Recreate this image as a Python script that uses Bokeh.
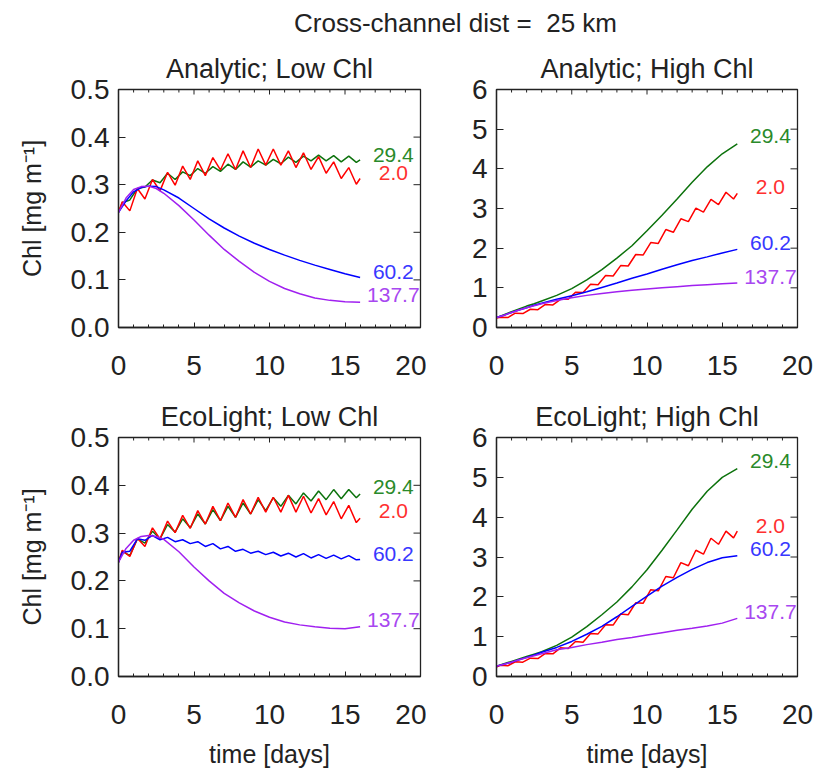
from bokeh.plotting import figure
from bokeh.layouts import column, row
from bokeh.models import Range1d, FixedTicker, LinearAxis, Title
from bokeh.embed import file_html
from bokeh.resources import INLINE
from bokeh.core.properties import value

# ---------------- data ----------------
t_zig = [0, 0.25, 0.75, 1.25, 1.75, 2.25, 2.75, 3.25, 3.75, 4.25, 4.75, 5.25, 5.75,
         6.25, 6.75, 7.25, 7.75, 8.25, 8.75, 9.25, 9.75, 10.25, 10.75, 11.25, 11.75,
         12.25, 12.75, 13.25, 13.75, 14.25, 14.75, 15.25, 15.75, 16]
t_smooth = [0, 0.5, 1, 1.5, 2, 2.5, 3, 4, 5, 6, 7, 8, 9, 10, 11, 12, 13, 14, 15, 16]

series_names = ["29.4", "2.0", "60.2", "137.7"]

# Analytic; Low Chl
a_low_green = [0.242, 0.262, 0.268, 0.292, 0.295, 0.310, 0.304, 0.324, 0.311, 0.327, 0.319,
               0.334, 0.324, 0.338, 0.328, 0.343, 0.332, 0.348, 0.337, 0.350, 0.341, 0.353,
               0.344, 0.358, 0.347, 0.360, 0.350, 0.362, 0.350, 0.361, 0.348, 0.360, 0.347, 0.352]
a_low_red = [0.242, 0.264, 0.245, 0.292, 0.270, 0.311, 0.287, 0.326, 0.299, 0.339, 0.311,
             0.350, 0.319, 0.357, 0.331, 0.365, 0.332, 0.371, 0.336, 0.375, 0.341, 0.375,
             0.341, 0.371, 0.336, 0.367, 0.332, 0.359, 0.324, 0.348, 0.313, 0.336, 0.301, 0.313]
a_low_blue = [0.242, 0.266, 0.285, 0.294, 0.297, 0.296, 0.289, 0.272, 0.250, 0.228, 0.209,
              0.192, 0.177, 0.164, 0.152, 0.141, 0.131, 0.122, 0.113, 0.105]
a_low_purple = [0.242, 0.272, 0.290, 0.296, 0.297, 0.292, 0.282, 0.256, 0.226, 0.194, 0.164,
                0.139, 0.116, 0.097, 0.082, 0.071, 0.062, 0.057, 0.054, 0.053]

# Analytic; High Chl
a_high_green = [0.25, 0.32, 0.40, 0.47, 0.54, 0.60, 0.67, 0.81, 0.98, 1.20, 1.46, 1.75, 2.06,
                2.44, 2.83, 3.24, 3.66, 4.05, 4.38, 4.63]
a_high_red = [0.24, 0.26, 0.25, 0.36, 0.35, 0.46, 0.45, 0.58, 0.57, 0.71, 0.71, 0.89, 0.88,
              1.09, 1.08, 1.31, 1.30, 1.56, 1.55, 1.84, 1.83, 2.14, 2.12, 2.47, 2.40, 2.74,
              2.67, 3.01, 2.91, 3.23, 3.10, 3.41, 3.24, 3.38]
a_high_blue = [0.25, 0.31, 0.38, 0.44, 0.50, 0.56, 0.61, 0.71, 0.80, 0.90, 1.01, 1.12, 1.24,
               1.35, 1.47, 1.58, 1.69, 1.78, 1.88, 1.97]
a_high_purple = [0.25, 0.31, 0.38, 0.44, 0.50, 0.55, 0.60, 0.68, 0.75, 0.81, 0.86, 0.90, 0.94,
                 0.97, 1.00, 1.03, 1.06, 1.08, 1.10, 1.12]

# EcoLight; Low Chl
e_low_green = [0.239, 0.262, 0.253, 0.288, 0.279, 0.304, 0.288, 0.318, 0.302, 0.330, 0.311,
               0.340, 0.319, 0.349, 0.326, 0.356, 0.333, 0.363, 0.340, 0.370, 0.347, 0.374,
               0.356, 0.379, 0.361, 0.384, 0.367, 0.388, 0.370, 0.391, 0.372, 0.391, 0.374, 0.382]
e_low_red = [0.239, 0.264, 0.251, 0.289, 0.272, 0.311, 0.288, 0.325, 0.301, 0.337, 0.310,
             0.347, 0.319, 0.356, 0.326, 0.363, 0.333, 0.370, 0.340, 0.375, 0.344, 0.375,
             0.344, 0.379, 0.344, 0.377, 0.342, 0.372, 0.338, 0.366, 0.330, 0.358, 0.322, 0.331]
e_low_blue = [0.239, 0.260, 0.262, 0.288, 0.285, 0.295, 0.286, 0.291, 0.282, 0.286, 0.278,
              0.282, 0.272, 0.278, 0.267, 0.272, 0.262, 0.266, 0.258, 0.262, 0.255, 0.260,
              0.252, 0.258, 0.250, 0.257, 0.248, 0.255, 0.247, 0.254, 0.246, 0.253, 0.244, 0.245]
e_low_purple = [0.239, 0.268, 0.285, 0.293, 0.295, 0.293, 0.287, 0.261, 0.229, 0.200, 0.174,
                0.154, 0.137, 0.124, 0.114, 0.108, 0.104, 0.101, 0.100, 0.104]

# EcoLight; High Chl
e_high_green = [0.26, 0.32, 0.38, 0.44, 0.50, 0.56, 0.62, 0.78, 0.99, 1.25, 1.55, 1.87, 2.25,
                2.68, 3.17, 3.68, 4.20, 4.65, 5.00, 5.22]
e_high_red = [0.24, 0.28, 0.27, 0.37, 0.36, 0.46, 0.45, 0.58, 0.57, 0.72, 0.70, 0.88, 0.86,
              1.08, 1.07, 1.30, 1.29, 1.57, 1.55, 1.85, 1.84, 2.18, 2.15, 2.51, 2.48, 2.86,
              2.78, 3.17, 3.07, 3.47, 3.32, 3.65, 3.48, 3.65]
e_high_blue = [0.26, 0.31, 0.36, 0.42, 0.48, 0.54, 0.61, 0.73, 0.88, 1.06, 1.26, 1.50, 1.76,
               2.02, 2.27, 2.49, 2.69, 2.86, 2.98, 3.03]
e_high_purple = [0.26, 0.31, 0.36, 0.42, 0.47, 0.52, 0.57, 0.67, 0.73, 0.80, 0.86, 0.93, 0.98,
                 1.04, 1.10, 1.16, 1.21, 1.27, 1.34, 1.46]

x_ticks = [0, 5, 10, 15, 20]
x_minor = [0, 1, 2, 3, 4, 5, 6, 7, 8, 9, 10, 11, 12, 13, 14, 15, 16, 17, 18, 19, 20]
low_ticks = [0.0, 0.1, 0.2, 0.3, 0.4, 0.5]
high_ticks = [0, 1, 2, 3, 4, 5, 6]

# ---------------- styling ----------------
FONT = "Liberation Sans"
TXT = "#222222"
COLORS = ["#0c720c", "#ff0000", "#0000ff", "#a020f0"]
LABEL_COLORS = ["#2a8a2a", "#ff3030", "#3838ff", "#a848f0"]
FRAME_W = {"left": 302, "right": 301}


def panel(title, ymax, yticks, ylabels_fmt, curves, label_y, col, height,
          bl, br, bt, bb, xlabel, ylabel, frame_h):
    width = bl + FRAME_W[col] + br
    p = figure(width=width, height=height, x_range=Range1d(0, 20), y_range=Range1d(0, ymax),
               output_backend="svg", toolbar_location=None, x_axis_type=None, y_axis_type=None,
               min_border_left=bl, min_border_right=br, min_border_top=bt, min_border_bottom=bb)
    p.outline_line_color = TXT
    p.outline_line_width = 1.3
    p.title = Title(text=title, align="center", text_font=FONT, text_font_size="27px",
                    text_font_style="normal", text_color=TXT, standoff=11)

    def style(ax):
        ax.axis_line_color = TXT
        ax.axis_line_width = 1.3
        ax.major_tick_line_color = TXT
        ax.minor_tick_line_color = TXT
        ax.major_tick_out = 0
        ax.minor_tick_out = 0
        ax.major_label_text_font = FONT
        ax.major_label_text_color = TXT
        ax.axis_label_text_font = FONT
        ax.axis_label_text_font_style = "normal"
        ax.axis_label_text_color = TXT

    xb = LinearAxis(ticker=FixedTicker(ticks=x_ticks, minor_ticks=x_minor))
    style(xb)
    xb.major_tick_in = 5
    xb.minor_tick_in = 3
    xb.major_label_text_font_size = "28px"
    xb.major_label_standoff = 28
    if xlabel:
        xb.axis_label = xlabel
        xb.axis_label_text_font_size = "25px"
        xb.axis_label_standoff = 13
    p.add_layout(xb, "below")

    yl = LinearAxis(ticker=FixedTicker(ticks=yticks, minor_ticks=[]))
    style(yl)
    yl.major_tick_in = 7
    yl.minor_tick_in = 0
    yl.major_label_text_font_size = "28px"
    yl.major_label_standoff = 9
    yl.major_label_overrides = {v: ylabels_fmt(v) for v in yticks}
    if ylabel:
        yl.axis_label = ylabel
        yl.axis_label_text_font_size = "25px"
        yl.axis_label_standoff = 22
    p.add_layout(yl, "left")

    # mirrored ticks on the top and right edges (no labels), from the same tick lists
    top_len = 5 * ymax / frame_h
    minor_len = 3 * ymax / frame_h
    right_len = 7 * 20 / FRAME_W[col]
    p.segment(x0=x_minor, y0=[ymax] * len(x_minor), x1=x_minor,
              y1=[ymax - (top_len if v in x_ticks else minor_len) for v in x_minor],
              line_color=TXT, line_width=1)
    p.segment(x0=[20] * len(yticks), y0=yticks, x1=[20 - right_len] * len(yticks), y1=yticks,
              line_color=TXT, line_width=1)

    for (tx, ys), c in zip(curves, COLORS):
        p.line(tx, ys, line_color=c, line_width=1.5)

    p.text(x=[18.2] * len(series_names), y=label_y, text=series_names,
           text_color=LABEL_COLORS, text_align="center", text_baseline="middle",
           text_font=value(FONT), text_font_size="21px")
    return p


fmt_low = lambda v: "%.1f" % v
fmt_high = lambda v: "%d" % v

ylab = "Chl [mg m\u207b\u00b9]"

p1 = panel("Analytic; Low Chl", 0.5, low_ticks, fmt_low,
           [(t_zig, a_low_green), (t_zig, a_low_red), (t_smooth, a_low_blue), (t_smooth, a_low_purple)],
           [0.362, 0.325, 0.117, 0.068],
           "left", 345, 118, 6, 45, 62, None, ylab, 238)
p2 = panel("Analytic; High Chl", 6, high_ticks, fmt_high,
           [(t_smooth, a_high_green), (t_zig, a_high_red), (t_smooth, a_high_blue), (t_smooth, a_high_purple)],
           [4.83, 3.55, 2.13, 1.28],
           "right", 345, 70, 16, 45, 62, None, None, 238)
p3 = panel("EcoLight; Low Chl", 0.5, low_ticks, fmt_low,
           [(t_zig, e_low_green), (t_zig, e_low_red), (t_zig, e_low_blue), (t_smooth, e_low_purple)],
           [0.396, 0.347, 0.257, 0.119],
           "left", 381, 118, 6, 48, 94, "time [days]", ylab, 239)
p4 = panel("EcoLight; High Chl", 6, high_ticks, fmt_high,
           [(t_smooth, e_high_green), (t_zig, e_high_red), (t_smooth, e_high_blue), (t_smooth, e_high_purple)],
           [5.40, 3.79, 3.19, 1.61],
           "right", 381, 70, 16, 48, 94, "time [days]", None, 239)

tf = figure(width=813, height=44, x_range=Range1d(0, 813), y_range=Range1d(0, 44),
            output_backend="svg", toolbar_location=None, x_axis_type=None, y_axis_type=None,
            min_border=0)
tf.outline_line_color = None
tf.text(x=[455], y=[22], text=["Cross-channel dist =\u00a0 25 km"], text_align="center",
        text_baseline="middle", text_font=value(FONT), text_font_size="26px", text_color=TXT)

layout = column(tf, row(p1, p2), row(p3, p4))
open("out.html", "w").write(file_html(layout, INLINE))
